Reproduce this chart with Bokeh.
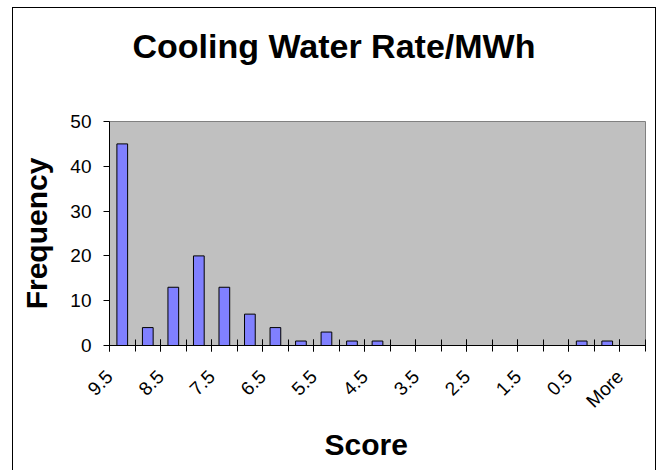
from bokeh.plotting import figure
from bokeh.models import Range1d, FixedTicker, Title, ColumnDataSource
from bokeh.embed import file_html
from bokeh.resources import INLINE
from math import pi

# Histogram bins (score upper edges) and counts
bins = ["9.5", "9", "8.5", "8", "7.5", "7", "6.5", "6", "5.5", "5", "4.5",
        "4", "3.5", "3", "2.5", "2", "1.5", "1", "0.5", "0", "More"]
freq = [45, 4, 13, 20, 13, 7, 4, 1, 3, 1, 1, 0, 0, 0, 0, 0, 0, 0, 1, 1, 0]
y_ticks = [0, 10, 20, 30, 40, 50]

FONT = "Liberation Sans"

idx = list(range(len(bins)))
src = ColumnDataSource(dict(x=idx, top=freq, label=bins))

p = figure(width=644, height=463, title=None,
           x_range=Range1d(-0.5, len(bins) - 0.5),
           y_range=Range1d(0, 50),
           output_backend="svg", toolbar_location=None,
           min_border_left=96, min_border_right=12,
           min_border_top=113, min_border_bottom=126,
           background_fill_color="#C0C0C0",
           border_fill_color="white",
           margin=(7, 0, 0, 12),
           styles={"border-left": "1px solid black",
                   "border-right": "1px solid black",
                   "border-top": "1px solid black",
                   "box-sizing": "border-box"})

p.outline_line_color = "#808080"
p.outline_line_width = 1
p.grid.visible = False

p.vbar(x="x", top="top", bottom=0, width=0.42, source=src,
       fill_color="#8080FF", line_color="black", line_width=1)

# tick marks on every bin boundary; slanted labels on every other bin,
# hung from the bin's left boundary
label_pos = idx[::2]
label_ticks = [i - 0.5 for i in label_pos]
xa = p.xaxis[0]
xa.ticker = FixedTicker(ticks=label_ticks,
                        minor_ticks=[i - 0.5 for i in range(len(bins) + 1)])
xa.major_label_overrides = {t: bins[i] for t, i in zip(label_ticks, label_pos)}
xa.major_label_orientation = pi / 4
xa.major_tick_in = 6
xa.major_tick_out = 6
xa.minor_tick_in = 6
xa.minor_tick_out = 6
xa.major_tick_line_color = "black"
xa.minor_tick_line_color = "black"
xa.axis_line_color = "black"
xa.major_label_text_font = FONT
xa.major_label_text_font_size = "19px"
xa.major_label_text_color = "black"
xa.major_label_standoff = 22

ya = p.yaxis[0]
ya.ticker = FixedTicker(ticks=y_ticks)
ya.major_tick_in = 0
ya.major_tick_out = 6
ya.minor_tick_line_color = None
ya.axis_line_color = "black"
ya.major_label_text_font = FONT
ya.major_label_text_font_size = "19px"
ya.major_label_text_color = "black"
ya.major_label_standoff = 12
ya.axis_label = "Frequency"
ya.axis_label_text_font = FONT
ya.axis_label_text_font_size = "30px"
ya.axis_label_text_font_style = "bold"
ya.axis_label_text_color = "black"
ya.axis_label_standoff = 14

# blank band between the heading and the plot area
p.add_layout(Title(text=" ", text_font=FONT, text_font_size="10px",
                   standoff=24), "above")
p.add_layout(Title(text="Cooling Water Rate/MWh", align="left",
                   vertical_align="top",
                   text_font=FONT, text_font_size="34px",
                   text_font_style="bold", text_color="black",
                   standoff=36, offset=23), "above")

p.add_layout(Title(text="Score", align="left", text_font=FONT,
                   text_font_size="30px", text_font_style="bold",
                   text_color="black", offset=215, standoff=9), "below")

open("out.html", "w").write(file_html(p, INLINE))
